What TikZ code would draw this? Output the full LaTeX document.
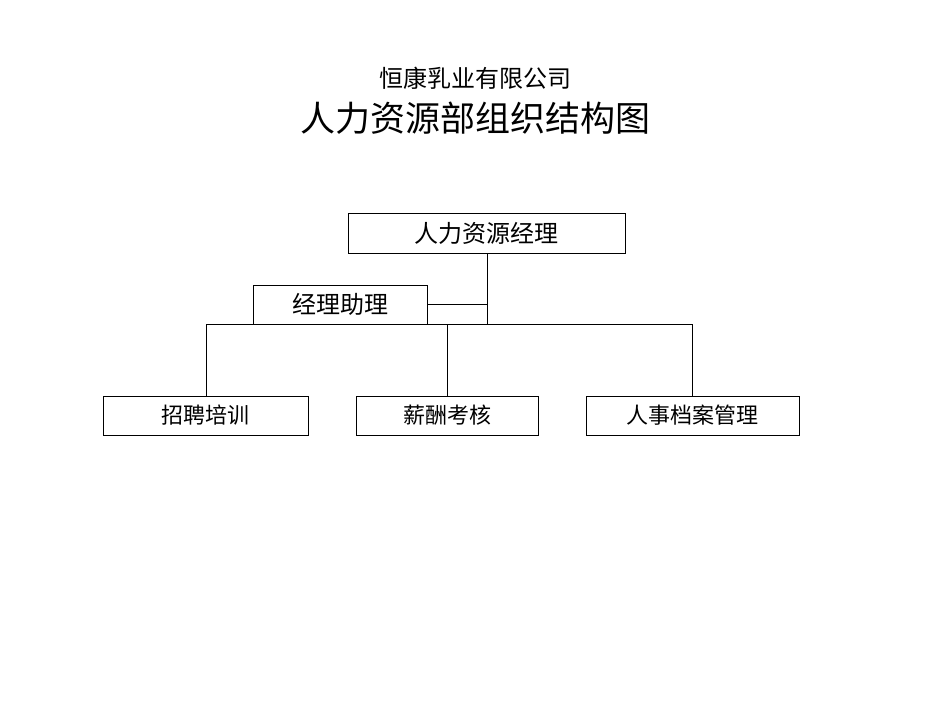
\documentclass[tikz,border=0pt]{standalone}
\usepackage{fontspec}
\setmainfont{Noto Sans CJK SC}
\begin{document}
\begin{tikzpicture}[x=1pt,y=-1pt,
  bx/.style={draw,line width=0.8pt,inner sep=0pt},
  ln/.style={line width=0.8pt}]
\useasboundingbox (0,0) rectangle (950,713);
\node (t1) at (475,78) {\fontsize{24}{26}\selectfont 恒康乳业有限公司};
\node (t2) at (475,118) {\fontsize{35}{38}\selectfont 人力资源部组织结构图};
\node[bx,minimum width=277pt,minimum height=40pt] (mgr) at (486.5,233) {\fontsize{24}{26}\selectfont 人力资源经理};
\node[bx,minimum width=174pt,minimum height=39pt] (ast) at (340,304.5) {\fontsize{24}{26}\selectfont 经理助理};
\node[bx,minimum width=205pt,minimum height=39pt] (b1) at (205.5,415.5) {\fontsize{22}{24}\selectfont 招聘培训};
\node[bx,minimum width=182pt,minimum height=39pt] (b2) at (447,415.5) {\fontsize{22}{24}\selectfont 薪酬考核};
\node[bx,minimum width=213pt,minimum height=39pt] (b3) at (692.5,415.5) {\fontsize{22}{24}\selectfont 人事档案管理};
\coordinate (j) at (487,324);
\coordinate (l) at (206,324);
\coordinate (r) at (692,324);
\draw[ln] (mgr.south -| j) -- (j);
\draw[ln] (ast.east) -- (ast.east -| j);
\draw[ln] (l) -- (r);
\draw[ln] (l) -- (b1.north -| l);
\draw[ln] (b2.north |- j) -- (b2.north);
\draw[ln] (r) -- (b3.north -| r);
\end{tikzpicture}
\end{document}
